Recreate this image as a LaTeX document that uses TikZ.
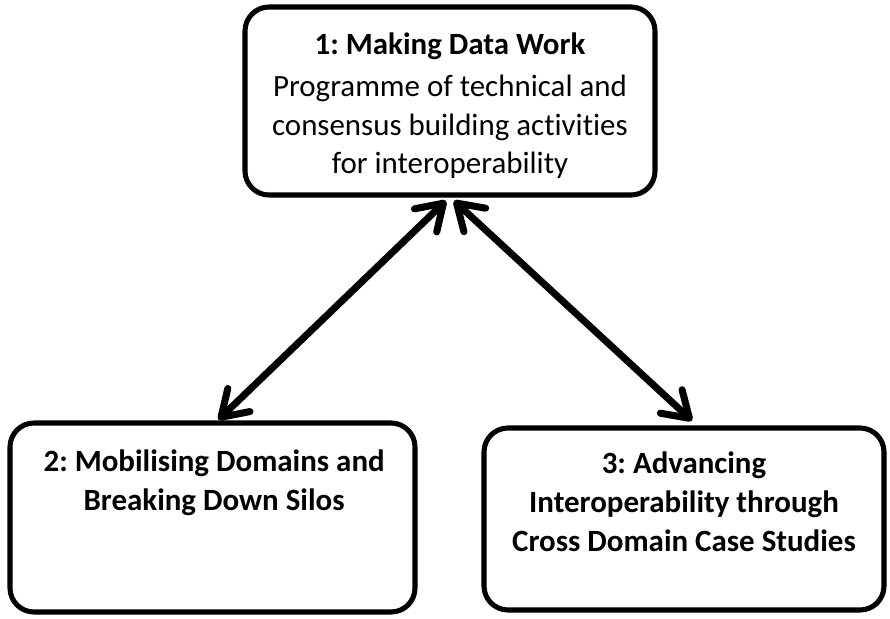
\documentclass[tikz,border=0pt]{standalone}
\usepackage{fontspec}
\setmainfont{Carlito}[Ligatures=NoCommon]
\usetikzlibrary{arrows.meta,positioning,shadows}

\begin{document}
\frenchspacing
\begin{tikzpicture}[
  every node/.style={font=\fontsize{22}{27.7}\selectfont},
  stage/.style={draw=black,fill=white,line width=3.6pt,rounded corners=0.6cm,
                drop shadow={shadow xshift=1.5pt,shadow yshift=-1.5pt,opacity=0.35}},
  stagetext/.style={align=center,inner sep=0pt},
  link/.style={line width=5pt,line cap=round,
               {Straight Barb[round,length=0.62cm,width=0.8cm]}-{Straight Barb[round,length=0.62cm,width=0.8cm]}}
]
\useasboundingbox (0,0) rectangle (22.25,-15.475);

% the three stages
\node[stage,minimum width=10.25cm,minimum height=4.7cm] (B1) at (11.25,-2.525) {};
\node[stage,minimum width=10.125cm,minimum height=4.725cm] (B2) at (5.3125,-12.9375) {};
\node[stage,minimum width=10cm,minimum height=4.55cm] (B3) at (17.1,-12.975) {};

\node[stagetext] (T1) at ([yshift=-0.12cm]B1.center)
  {\textbf{1: Making Data Work}\\[2pt]Programme of technical and\\consensus building activities\\for interoperability};
\node[stagetext] (T2) at ([xshift=0.04cm,yshift=-1.55cm]B2.north)
  {\textbf{2: Mobilising Domains and}\\\textbf{Breaking Down Silos}};
\node[stagetext] (T3) at ([yshift=-1.9cm]B3.north)
  {\textbf{3: Advancing}\\\textbf{Interoperability through}\\\textbf{Cross Domain Case Studies}};

% two-way links
\draw[link] ([xshift=0.15cm,yshift=0.02cm]B2.north) -- ([xshift=-0.1cm,yshift=-0.08cm]B1.south);
\draw[link] ([xshift=0.1cm,yshift=-0.08cm]B1.south) -- ([xshift=0.2cm,yshift=0.12cm]B3.north);
\end{tikzpicture}
\end{document}
